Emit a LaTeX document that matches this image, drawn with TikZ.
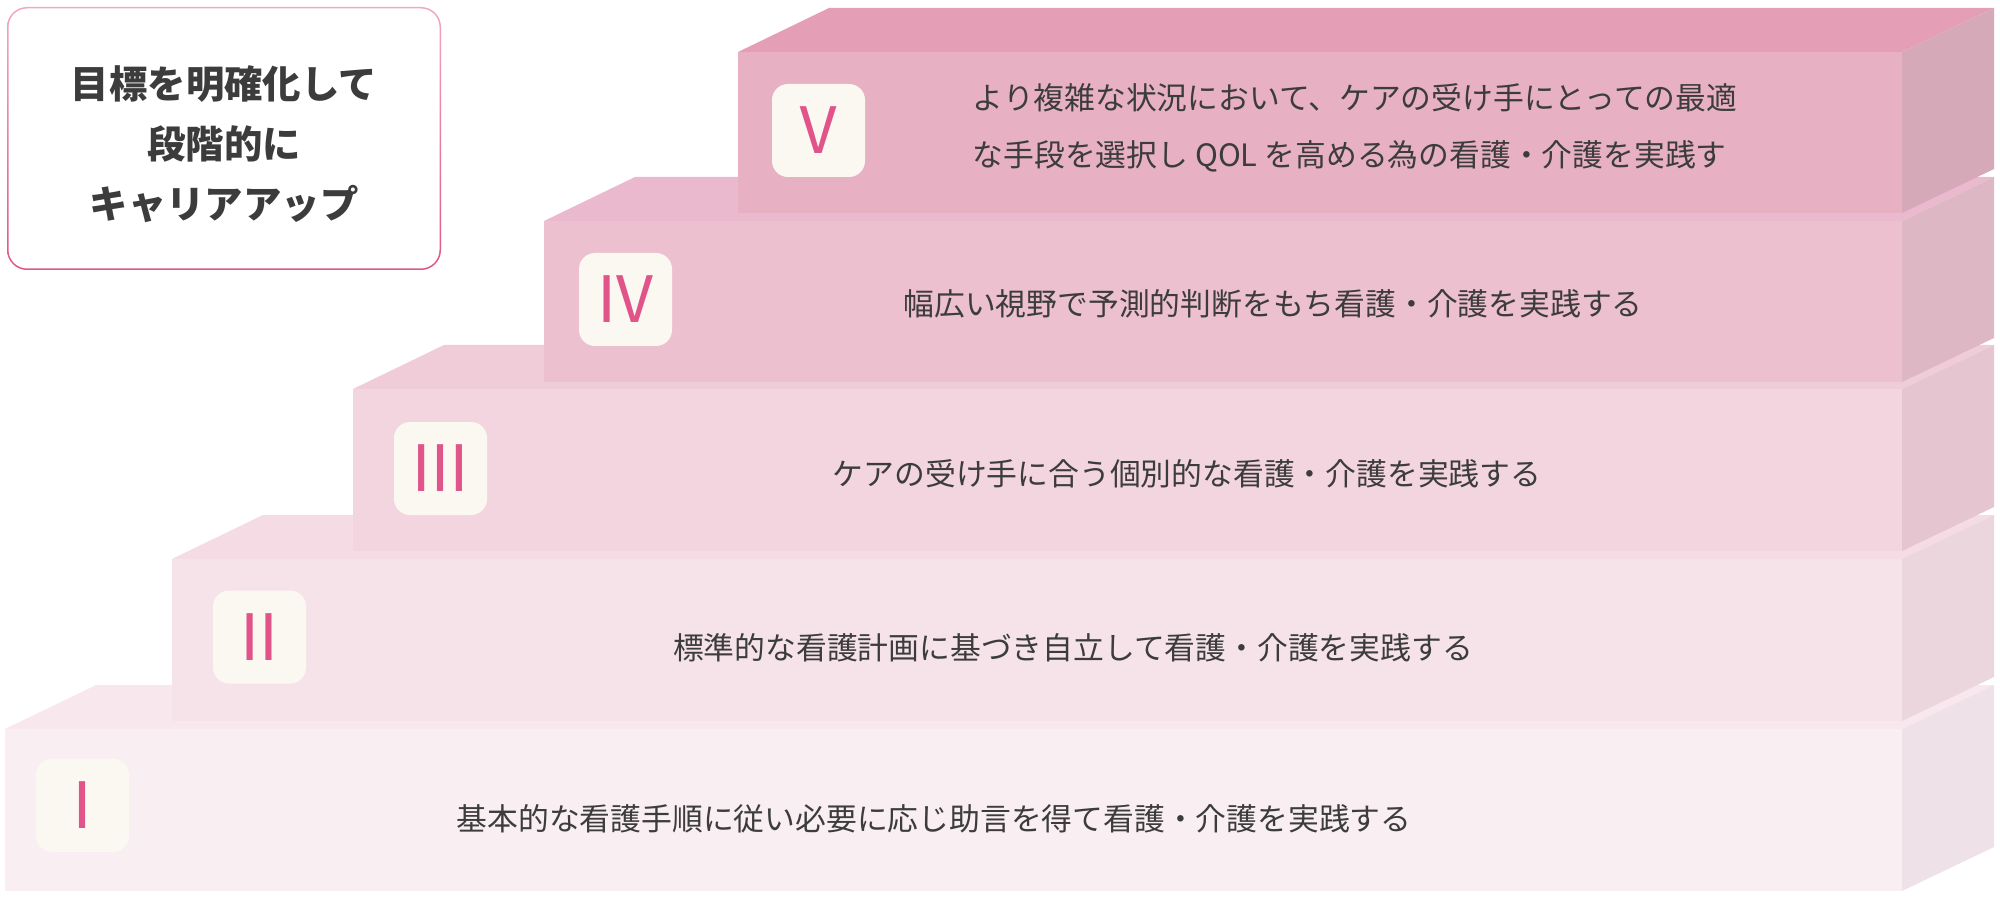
\documentclass[tikz,border=0pt]{standalone}
\usepackage{fontspec}
\setmainfont{Noto Sans CJK JP}
\usetikzlibrary{
	calc
}

\definecolor{frontI}{HTML}{F9EEF2}
\definecolor{topI}{HTML}{F8E8EE}
\definecolor{sideI}{HTML}{EEE1E7}
\definecolor{frontII}{HTML}{F6E3EA}
\definecolor{topII}{HTML}{F4DBE4}
\definecolor{sideII}{HTML}{EBD6DE}
\definecolor{frontIII}{HTML}{F3D5DF}
\definecolor{topIII}{HTML}{F0CBD8}
\definecolor{sideIII}{HTML}{E5C6D0}
\definecolor{frontIV}{HTML}{EDC0CF}
\definecolor{topIV}{HTML}{EAB9CD}
\definecolor{sideIV}{HTML}{DDB8C4}
\definecolor{frontV}{HTML}{E8B1C3}
\definecolor{topV}{HTML}{E49EB5}
\definecolor{sideV}{HTML}{D5A9B8}
\definecolor{badgebg}{HTML}{FBF8F2}
\definecolor{numpink}{HTML}{E0548A}
\definecolor{textgray}{HTML}{3C3C3C}
\definecolor{frametop}{HTML}{F2A8C0}
\definecolor{framebot}{HTML}{E0558A}

\begin{document}
\begin{tikzpicture}[
	x=0.5pt, y=-0.5pt,
	badge/.style={fill=badgebg, rounded corners=8pt, minimum size=46.5pt,
		inner sep=0, text=numpink, font=\fontsize{32}{32}\selectfont},
	desc/.style={text=textgray, align=left,
		font=\fontsize{15.4}{28.5}\selectfont},
	title/.style={text=textgray, align=center,
		font=\fontsize{19.2}{30}\selectfont\bfseries}
]
	\useasboundingbox (0,0) rectangle (2000,898);

	% steps, from the lowest one up: left, top, bottom, colour
	\foreach \l/\t/\b/\c in {5/729/891/I, 172/559/721/II, 353/389/551/III,
		544/221/382/IV, 738/52/213/V}{
		\fill[top\c] (\l,\t) -- ++(91,-44) -- (1994,\t-44) -- (1902,\t) -- cycle;
		\fill[side\c] (1902,\t) -- (1994,\t-44) -- (1994,\b-44) -- (1902,\b) -- cycle;
		\fill[front\c] (\l,\t) rectangle (1902,\b);
	}

	\node(b1)[badge] at (82.5,805.5) {Ⅰ};
	\node(b2)[badge] at (259.5,637) {Ⅱ};
	\node(b3)[badge] at (440.5,468.5) {Ⅲ};
	\node(b4)[badge] at (625.5,299.5) {Ⅳ};
	\node(b5)[badge] at (818.5,130.5) {Ⅴ};

	\node(t1)[desc] at (934,819) {基本的な看護手順に従い必要に応じ助言を得て看護・介護を実践する};
	\node(t2)[desc] at (1073,648) {標準的な看護計画に基づき自立して看護・介護を実践する};
	\node(t3)[desc] at (1187,474) {ケアの受け手に合う個別的な看護・介護を実践する};
	\node(t4)[desc] at (1273,304) {幅広い視野で予測的判断をもち看護・介護を実践する};
	\node(t5)[desc] at (1355,128) {より複雑な状況において、ケアの受け手にとっての最適\\
		な手段を選択し QOL を高める為の看護・介護を実践す};

	% goal box
	\shade[top color=frametop, bottom color=framebot, even odd rule]
		[rounded corners=10pt] (7,7) rectangle (441,270)
		[rounded corners=9.25pt] (8.5,8.5) rectangle (439.5,268.5);
	\node(goal)[title] at (224,144) {目標を明確化して\\段階的に\\キャリアアップ};
\end{tikzpicture}
\end{document}
